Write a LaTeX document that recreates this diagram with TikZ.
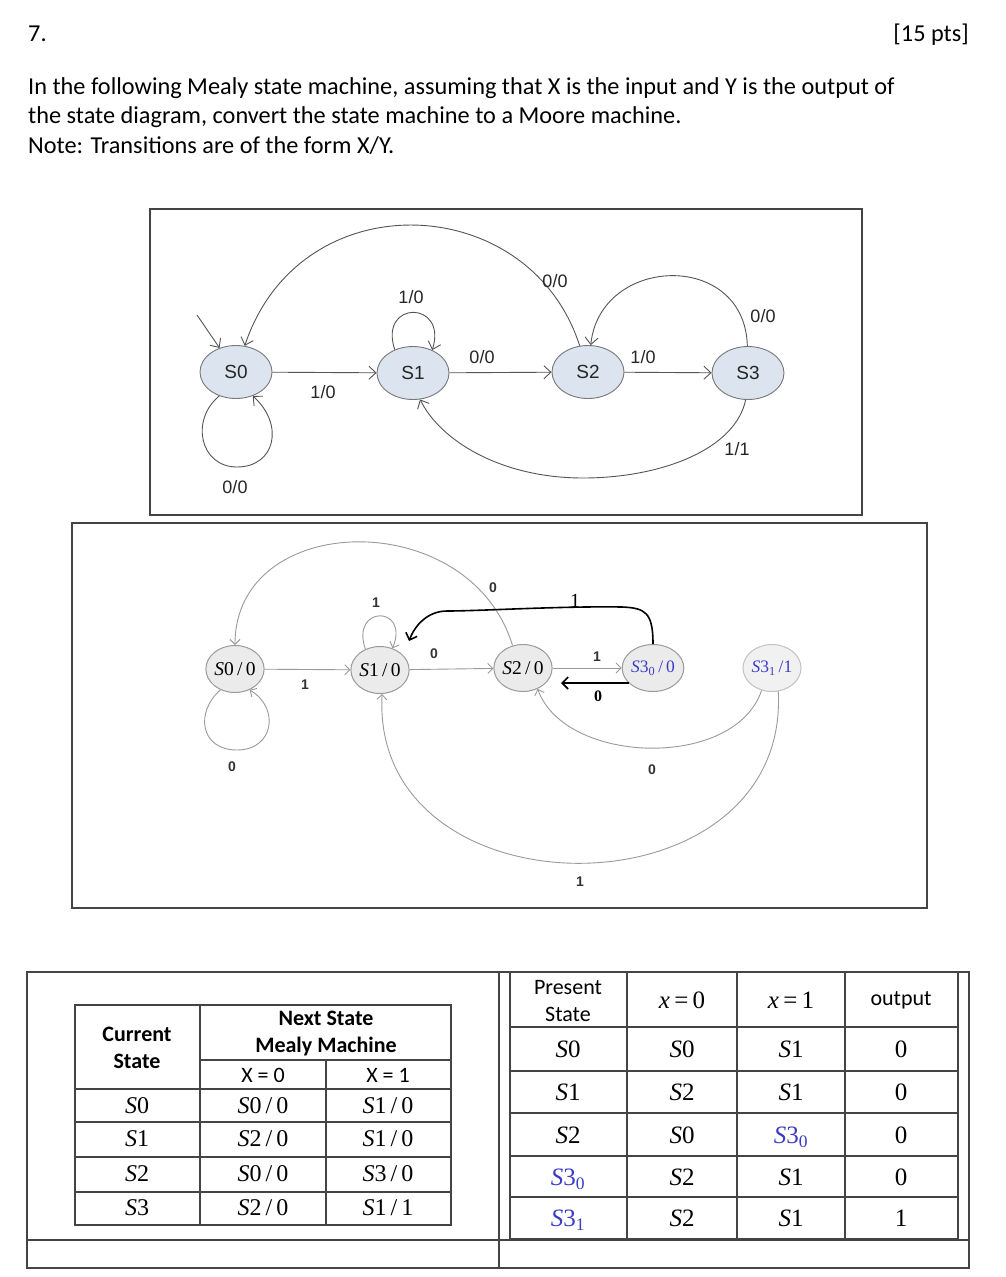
\documentclass[tikz,border=0pt]{standalone}
\usepackage{fontspec}
\setmainfont{Carlito}
\newfontfamily\arialf{Liberation Sans}
\newfontfamily\serf{Liberation Serif}
\usetikzlibrary{arrows.meta,shapes.geometric,calc}
\definecolor{edgeA}{HTML}{555555}
\definecolor{fillA}{HTML}{DCE4F0}
\definecolor{lineA}{HTML}{777777}
\definecolor{edgeB}{HTML}{9A9A9A}
\definecolor{fillB}{HTML}{EBEBEB}
\definecolor{sblue}{HTML}{3B3BC8}
\definecolor{framecol}{HTML}{444444}
\newcommand\St[1]{\textit{S}#1}
\newcommand\Sb[1]{{\color{sblue}\textit{S}3\textsubscript{#1}}}
\begin{document}
\begin{tikzpicture}[x=1pt,y=-1pt,
  txt/.style={font=\fontsize{24.3}{29}\selectfont, inner sep=0, text=black},
  stA/.style={ellipse, draw=lineA, fill=fillA, line width=0.9pt, minimum width=72pt, minimum height=53pt, inner sep=0, font=\arialf\fontsize{19}{20}\selectfont, text=black!85},
  eA/.style={draw=edgeA, line width=0.9pt, -{Straight Barb[length=7pt,width=13pt]}},
  lblA/.style={font=\arialf\fontsize{18}{20}\selectfont, text=black!85, inner sep=0},
  stB/.style={ellipse, draw=edgeB, fill=fillB, line width=1pt, minimum width=58pt, minimum height=47pt, inner sep=0, font=\serf\fontsize{19.5}{20}\selectfont},
  eB/.style={draw=edgeB, line width=0.9pt, -{Straight Barb[length=5pt,width=10pt]}},
  eBk/.style={draw=black, line width=1.6pt, -{Straight Barb[length=6pt,width=12pt]}},
  lblB/.style={font=\arialf\bfseries\fontsize{14}{16}\selectfont, text=black!80, inner sep=0},
  tl/.style={draw=framecol, line width=1.2pt},
  hdr/.style={font=\bfseries\fontsize{22}{27}\selectfont, align=center, inner sep=0},
  hdrn/.style={font=\fontsize{22}{27}\selectfont, align=center, inner sep=0},
  cellL/.style={font=\serf\fontsize{24}{25}\selectfont, inner sep=0},
  cellR/.style={font=\serf\fontsize{25}{26}\selectfont, inner sep=0}
]
\useasboundingbox (0,0) rectangle (1005,1277);
\fill[white] (0,0) rectangle (1005,1277);

% ---------- header text
\node[txt, anchor=base west] (q7) at (28,41) {7.};
\node[txt, anchor=base east] (pts) at (969,41) {[15 pts]};
\node[txt, anchor=base west] (l1) at (28,94) {In the following Mealy state machine, assuming that X is the input and Y is the output of};
\node[txt, anchor=base west] (l2) at (28,123) {the state diagram, convert the state machine to a Moore machine.};
\node[txt, anchor=base west] (l3) at (28,153) {Note: Transitions are of the form X/Y.};

% ---------- diagram 1 (Mealy)
\draw[framecol, line width=1.4pt] (150,209) rectangle (862,515);
\node[stA] (s0) at (236,372) {S0};
\node[stA] (s1) at (413,373) {S1};
\node[stA] (s2) at (588,372) {S2};
\node[stA] (s3) at (748,373) {S3};
\coordinate (init) at (197,315);
\draw[eA] (init) -- (s0);
\draw[eA] (s0) -- (s1);
\draw[eA] (s1) -- (s2);
\draw[eA] (s2) -- (s3);
\draw[eA] (s0.235) .. controls (190,420) and (200,467) .. (237,467) .. controls (275,467) and (285,425) .. (s0.305);
\draw[eA] (s1.128) .. controls (378,300) and (448,300) .. (s1.50);
\draw[eA] (s2) .. controls (530,190) and (300,180) .. (s0);
\draw[eA] (s3) .. controls (745,250) and (600,255) .. (s2);
\draw[eA] (s3.265) .. controls (735,450) and (660,478) .. (583,478) .. controls (500,478) and (440,440) .. (s1.285);
\node[lblA] (a1) at (411,297) {1/0};
\node[lblA] (a2) at (555,281) {0/0};
\node[lblA] (a3) at (763,316) {0/0};
\node[lblA] (a4) at (482,357) {0/0};
\node[lblA] (a5) at (643,357) {1/0};
\node[lblA] (a6) at (323,392) {1/0};
\node[lblA] (a7) at (737,449) {1/1};
\node[lblA] (a8) at (235,487) {0/0};

% ---------- diagram 2 (Moore)
\draw[framecol, line width=1.4pt] (72,523) rectangle (927,908);
\node[stB] (n0) at (235,669) {\St{0}\,/\,0};
\node[stB] (n1) at (380,670) {\St{1}\,/\,0};
\node[stB] (n2) at (523,668) {\St{2}\,/\,0};
\node[stB, font=\serf\fontsize{17.5}{18}\selectfont] (n30) at (653,668) {\Sb{0}\,{\color{sblue}/\,0}};
\node[stB, draw=edgeB!60, fill=fillB!70, font=\serf\fontsize{17.5}{18}\selectfont] (n31) at (772,668) {\Sb{1}\,{\color{sblue}/1}};
\draw[eB] (n0) -- (n1);
\draw[eB] (n1) -- (n2);
\draw[eB] (n2) -- (n30);
\coordinate (bk1) at (629,683);
\coordinate (bk2) at (561,683);
\draw[eBk] (bk1) -- (bk2);
\draw[eB] (n0.235) .. controls (195,712) and (200,750) .. (237,750) .. controls (274,750) and (280,708) .. (n0.305);
\draw[eB] (n1.125) .. controls (350,605) and (410,605) .. (n1.60);
\draw[eB] (n2.115) .. controls (470,505) and (235,510) .. (n0);
\coordinate (bt) at (409,641);
\draw[eBk] (n30.north) .. controls (653,612) and (645,608) .. (622,607) .. controls (560,606) and (480,611) .. (447,611) .. controls (428,611) and (415,625) .. (bt);
\draw[eB] (n31.245) .. controls (735,770) and (565,765) .. (n2.305);
\draw[eB] (n31.285) .. controls (790,920) and (370,920) .. (n1.275);
\node[lblB] (b1) at (305,685) {1};
\node[lblB] (b2) at (434,654) {0};
\node[lblB] (b3) at (597,657) {1};
\node[font=\serf\bfseries\fontsize{16}{18}\selectfont, inner sep=0] (b4) at (598,696) {0};
\node[lblB] (b5) at (232,767) {0};
\node[lblB] (b6) at (376,603) {1};
\node[lblB] (b7) at (493,588) {0};
\node[lblB] (b8) at (652,770) {0};
\node[lblB] (b9) at (580,882) {1};
\node[font=\serf\fontsize{20}{20}\selectfont, inner sep=0] (b10) at (575,601) {1};

% ---------- tables frame
\draw[tl] (27,972) rectangle (969,1268);
\draw[tl] (499,972) -- (499,1268);
\draw[tl] (27,1240) -- (969,1240);

% left table
\draw[tl] (75,1005) rectangle (451,1225);
\draw[tl] (200,1005) -- (200,1225);
\draw[tl] (326,1060) -- (326,1225);
\draw[tl] (200,1060) -- (451,1060);
\foreach \yy in {1089,1122,1157,1192} \draw[tl] (75,\yy) -- (451,\yy);
\node[hdr] (lh1) at (137,1048) {Current\\State};
\node[hdr] (lh2) at (326,1034) {Next State\\Mealy Machine};
\node[hdrn] (lh3) at (263,1075) {X = 0};
\node[hdrn] (lh4) at (388,1075) {X = 1};
\foreach \yy/\a/\b/\c [count=\i] in {1106/0/{0\,/\,0}/{1\,/\,0}, 1139/1/{2\,/\,0}/{1\,/\,0}, 1174/2/{0\,/\,0}/{3\,/\,0}, 1208/3/{2\,/\,0}/{1\,/\,1}} {
  \node[cellL] (lc\i a) at (137,\yy) {\St{\a}};
  \node[cellL] (lc\i b) at (263,\yy) {\St{\b}};
  \node[cellL] (lc\i c) at (388,\yy) {\St{\c}};
}

% right table
\draw[tl] (510,972) rectangle (958,1239);
\foreach \xx in {627,737,845} \draw[tl] (\xx,972) -- (\xx,1239);
\foreach \yy in {1027,1071,1113,1156,1197} \draw[tl] (510,\yy) -- (958,\yy);
\node[hdrn] (rh1) at (568,1001) {Present\\State};
\node[cellR] (rh2) at (682,1000) {\textit{x}\,=\,0};
\node[cellR] (rh3) at (791,1000) {\textit{x}\,=\,1};
\node[hdrn] (rh4) at (901,1000) {output};
\node[cellR] (r1a) at (568,1049) {\St{0}};
\node[cellR] (r1b) at (682,1049) {\St{0}};
\node[cellR] (r1c) at (791,1049) {\St{1}};
\node[cellR] (r1d) at (901,1049) {0};
\node[cellR] (r2a) at (568,1092) {\St{1}};
\node[cellR] (r2b) at (682,1092) {\St{2}};
\node[cellR] (r2c) at (791,1092) {\St{1}};
\node[cellR] (r2d) at (901,1092) {0};
\node[cellR] (r3a) at (568,1135) {\St{2}};
\node[cellR] (r3b) at (682,1135) {\St{0}};
\node[cellR] (r3c) at (791,1137) {\Sb{0}};
\node[cellR] (r3d) at (901,1135) {0};
\node[cellR] (r4a) at (568,1179) {\Sb{0}};
\node[cellR] (r4b) at (682,1177) {\St{2}};
\node[cellR] (r4c) at (791,1177) {\St{1}};
\node[cellR] (r4d) at (901,1177) {0};
\node[cellR] (r5a) at (568,1220) {\Sb{1}};
\node[cellR] (r5b) at (682,1218) {\St{2}};
\node[cellR] (r5c) at (791,1218) {\St{1}};
\node[cellR] (r5d) at (901,1218) {1};
\end{tikzpicture}
\end{document}
